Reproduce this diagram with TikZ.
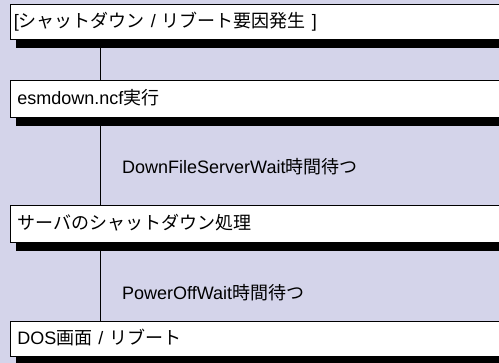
\documentclass[tikz,border=0pt]{standalone}
\usepackage{fontspec}
\setmainfont{Liberation Sans}
\newfontfamily\jp{Noto Sans CJK JP}
\definecolor{bgc}{RGB}{212,212,234}
\pgfdeclarelayer{back}
\pgfsetlayers{back,main}
\begin{document}
\begin{tikzpicture}[x=1pt,y=-1pt,
  box/.style={draw=black, line width=0.9pt, fill=white, anchor=north west,
    text height=13pt, text depth=2pt, inner ysep=0pt, align=left,
    font=\fontsize{18}{21}\selectfont},
  lbl/.style={anchor=base west, inner sep=0pt, font=\fontsize{18}{21}\selectfont},
  conn/.style={draw=black, line width=0.9pt},
  shadowbar/.style={fill=black}]
\useasboundingbox (0,0) rectangle (499,363);
\node[box, text width=492.5pt, inner xsep=4pt, minimum height=35pt] (b1) at (9.5,4.5)
  {[{\jp シャットダウン} / {\jp リブート要因発生} ]};
\node[box, text width=485.5pt, inner xsep=7.5pt, minimum height=36.5pt] (b2) at (9.5,80.5)
  {esmdown.ncf{\jp 実行}};
\node[box, text width=485.5pt, inner xsep=7.5pt, minimum height=36.5pt] (b3) at (9.5,205.5)
  {{\jp サーバのシャットダウン処理}};
\node[box, text width=485.5pt, inner xsep=7.5pt, minimum height=35.5pt] (b4) at (9.5,321)
  {DOS{\jp 画面} / {\jp リブート}};
\node[lbl] (w1) at (122,174) {DownFileServerWait{\jp 時間待つ}};
\node[lbl] (w2) at (122,299.3) {PowerOffWait{\jp 時間待つ}};
\coordinate (ax) at (100.5,0);
\begin{pgfonlayer}{back}
  \fill[bgc] (0,0) rectangle (499,363);
  \draw[conn] (b1.south -| ax) -- (b2.north -| ax);
  \draw[conn] (b2.south -| ax) -- (b3.north -| ax);
  \draw[conn] (b3.south -| ax) -- (b4.north -| ax);
  \foreach \b in {b1,b2,b3,b4}{
    \fill[shadowbar] ([shift={(6,8)}]\b.north west) rectangle ([shift={(6,8)}]\b.south east);
  }
\end{pgfonlayer}
\end{tikzpicture}
\end{document}
